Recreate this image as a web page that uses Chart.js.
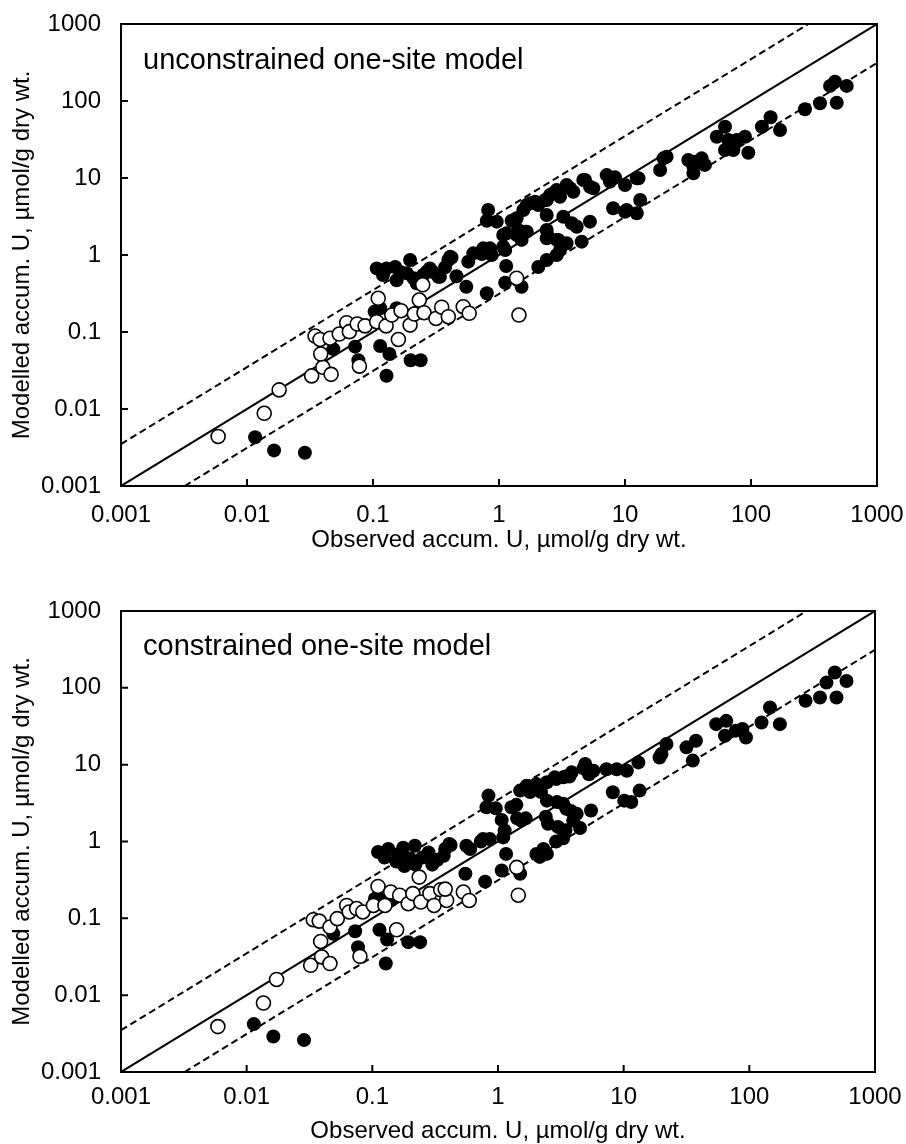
<!DOCTYPE html>
<html><head><meta charset="utf-8">
<script src="https://cdn.jsdelivr.net/npm/chart.js@4/dist/chart.umd.min.js"></script>
<style>
html,body{margin:0;padding:0;background:#fff;}
#wrap{position:relative;width:906px;height:1144px;overflow:hidden;}
canvas{position:absolute;left:0;}
</style></head><body>
<div id="wrap">
<canvas id="c1" width="906" height="560" style="top:0px"></canvas>
<canvas id="c2" width="906" height="572" style="top:572px"></canvas>
</div>
<script>
const FONT = "'Liberation Sans', Arial, Helvetica, sans-serif";
const tickValues = [0.001, 0.01, 0.1, 1, 10, 100, 1000];
const tickLabels = ['0.001', '0.01', '0.1', '1', '10', '100', '1000'];
const xTitle = 'Observed accum. U, µmol/g dry wt.';
const yTitle = 'Modelled accum. U, µmol/g dry wt.';
const panelLabels = ['unconstrained one-site model', 'constrained one-site model'];

const lineOneToOne = [[0.001, 0.001], [1000, 1000]];
const lineUpper = [[0.001, 0.0035], [285.7, 1000]];
const lineLower = [[0.0032, 0.001], [1000, 312]];

const topFilled = [
[0.0116,0.0043],[0.0164,0.0029],[0.0288,0.0027],
[0.0484,0.060],[0.072,0.0645],[0.0765,0.043],[0.114,0.0658],[0.135,0.0518],[0.128,0.027],[0.199,0.043],[0.239,0.043],
[0.103,0.184],[0.114,0.203],[0.154,0.203],
[0.107,0.67],[0.128,0.67],[0.150,0.70],[0.197,0.86],[0.154,0.47],[0.222,0.43],[0.283,0.67],[0.340,0.52],[0.396,0.86],[0.25,0.55],[0.185,0.58],[0.12,0.55],[0.165,0.6],[0.21,0.5],[0.3,0.6],
[0.267,0.607],[0.33,0.52],[0.373,0.69],[0.42,0.93],[0.46,0.53],[0.57,0.82],[0.73,1.03],[0.875,1.0],[0.55,0.387],[0.80,0.318],[1.12,0.437],[1.14,0.72],[1.12,1.16],[1.08,1.82],[1.38,1.82],[1.66,2.01],[1.51,1.57],[1.51,0.387],[1.38,3.0],[0.82,3.84],[0.80,2.79],[0.96,2.71],[1.56,3.84],[1.76,4.69],[2.05,4.46],[2.39,3.31],[2.39,5.18],[2.70,6.33],[3.05,5.72],[3.44,7.71],[2.46,1.73],[2.87,1.57],[3.05,1.16],[2.39,0.86],[2.05,0.70],[2.87,1.0],[3.44,1.42],
[0.41,0.95],[0.625,1.05],[0.75,1.22],[0.85,1.22],[1.08,1.28],
[1.26,2.79],[1.42,2.11],[1.66,4.46],[1.93,4.92],[2.32,5.18],[2.54,6.01],[2.87,6.98],[3.44,8.1],[3.89,6.64],[4.82,9.42],[5.6,7.35],[7.16,10.9],[7.6,8.96],[10,8.1],[12.4,9.91],
[1.15,1.91],[1.46,1.82],[1.61,2.01],[2.39,2.11],[3.24,3.14],[2.39,1.65],[2.96,1.57],[3.78,2.58],[4.14,2.33],[5.27,2.71],[4.53,1.49],[8.05,4.04],[10,3.65],[13.2,5.18],[12.4,3.48],[10.3,3.84],
[3.66,7.35],[4.67,9.42],[5.27,7.71],[8.33,10.2],[12.8,9.91],
[19,12.7],[21.4,18.9],[20.2,18.0],[31.8,17.1],[34.9,14.0],[39.4,16.3],[34.9,11.5],[36,16.3],[40.6,18],
[43.1,14.8],[53.5,34.4],[62.2,46.4],[66.1,31.2],[77.1,31.2],[89.6,34.4],[62.2,23.1],[72.4,23.1],[95.2,21.3],[122,46.4],[143,61.4],[170,42],[268,78],[353,93.3],[479,95],[424,157],[464,178],[575,157]
];
const topOpen = [
[0.0059,0.0044],[0.0137,0.0088],[0.018,0.0177],[0.0326,0.0269],[0.040,0.0348],[0.0465,0.0282],[0.0385,0.0518],[0.0347,0.0887],[0.038,0.080],[0.0456,0.083],[0.054,0.094],[0.0618,0.132],[0.0649,0.101],[0.075,0.127],[0.0865,0.120],[0.078,0.036],[0.107,0.136],[0.110,0.274],[0.127,0.120],[0.159,0.080],[0.141,0.166],[0.167,0.189],[0.197,0.123],[0.213,0.171],[0.233,0.26],[0.248,0.41],[0.254,0.178],[0.316,0.150],[0.351,0.21],[0.396,0.158],[0.52,0.213],[0.58,0.175],[1.38,0.50],[1.44,0.166]
];
const bottomFilled = [
[0.0114,0.0042],[0.0163,0.0029],[0.0286,0.0026],
[0.0489,0.063],[0.073,0.068],[0.077,0.042],[0.114,0.071],[0.131,0.053],[0.128,0.0258],[0.193,0.049],[0.24,0.049],[0.114,0.19],[0.14,0.171],[0.105,0.18],
[0.111,0.73],[0.134,0.80],[0.176,0.83],[0.218,0.88],[0.125,0.62],[0.155,0.55],[0.16,0.68],[0.2,0.6],[0.25,0.62],[0.28,0.72],[0.33,0.58],[0.38,0.8],[0.3,0.5],[0.22,0.5],[0.18,0.48],[0.37,0.65],[0.42,0.9],
[0.41,0.93],[0.56,0.88],[0.76,1.08],[0.86,1.08],[1.1,1.13],[1.16,0.69],[1.13,1.39],[2.02,0.69],[2.3,0.80],
[0.55,0.38],[0.79,0.30],[1.07,0.42],[1.5,0.38],[2.15,0.63],[2.45,0.69],
[0.84,3.96],[0.81,2.79],[1.07,1.91],[1.28,2.79],[1.53,1.87],[1.50,4.6],[1.69,5.33],[2.02,5.6],[2.45,5.9],[2.83,6.84],[3.3,6.84],[3.86,7.94],[2.45,3.4],[2.95,3.27],[3.5,2.66],[4.23,2.29],[3.97,1.87],[5.5,2.53],[4.94,10.2],[5.75,8.35],[7.3,8.7],[8.8,8.7],[10.6,8.35],[13.1,10.7],[8.2,4.37],[10.1,3.4],[13.4,4.6],[11.5,3.27],
[1.42,2.0],[1.66,2.0],[2.4,2.1],[3.0,1.55],[3.3,1.1],[2.9,1.0],[3.44,1.4],[2.5,1.7],[3.8,2.5],[4.5,1.5],[3.3,3.1],[3.44,7.0],[4.8,9.0],[3.7,7.0],[5.3,7.5],[2.9,6.5],[2.2,4.4],[1.8,4.4],[1.4,3.0],[0.96,2.7],[0.73,1.0],[0.6,0.8],
[20,13.8],[21.9,18.6],[19.3,12.4],[31.6,16.8],[37.6,20.5],[35.5,11.3],[54.5,33.7],[65.5,37.2],[64,23.8],[78,27.7],[94,22.6],[88,29.1],[125,35.4],[146,55.5],[175,33.7],[280,67.8],[365,74.8],[494,74.8],[411,117],[479,158],[593,123]
];
const bottomOpen = [
[0.0059,0.0039],[0.0136,0.0079],[0.0173,0.016],[0.0323,0.0245],[0.0395,0.0315],[0.046,0.0258],[0.0388,0.050],[0.0339,0.096],[0.0378,0.092],[0.046,0.077],[0.0526,0.099],[0.0625,0.147],[0.0655,0.121],[0.075,0.134],[0.084,0.121],[0.0797,0.032],[0.102,0.147],[0.111,0.26],[0.126,0.147],[0.156,0.071],[0.14,0.22],[0.165,0.20],[0.193,0.155],[0.21,0.21],[0.236,0.344],[0.243,0.163],[0.287,0.21],[0.31,0.147],[0.35,0.236],[0.39,0.171],[0.38,0.24],[0.53,0.22],[0.59,0.171],[1.41,0.46],[1.45,0.20]
];

const toXY = arr => arr.map(p => ({x: p[0], y: p[1]}));

const framePlugin = {
  id: 'frame',
  afterDatasetsDraw(chart) {
    const o = chart.options.plugins.frame;
    const {ctx, chartArea: a, scales: {x, y}} = chart;
    ctx.save();
    ctx.strokeStyle = '#000';
    ctx.lineWidth = 2;
    ctx.strokeRect(a.left, a.top, a.right - a.left, a.bottom - a.top);
    ctx.beginPath();
    tickValues.forEach(v => {
      const px = x.getPixelForValue(v);
      ctx.moveTo(px, a.bottom); ctx.lineTo(px, a.bottom - 7);
      const py = y.getPixelForValue(v);
      ctx.moveTo(a.left, py); ctx.lineTo(a.left + 7, py);
    });
    ctx.stroke();
    ctx.fillStyle = '#000';
    ctx.font = '29px ' + FONT;
    ctx.textAlign = 'left';
    ctx.textBaseline = 'alphabetic';
    ctx.fillText(o.label, a.left + o.dx, a.top + o.dy);
    ctx.restore();
  }
};

function makePanel(id, filled, open, label, g) {
  const lineDs = (pts, dash) => ({
    data: toXY(pts), showLine: true, pointRadius: 0, borderColor: '#000',
    borderWidth: 2, borderDash: dash, fill: false, order: 3
  });
  return new Chart(document.getElementById(id), {
    type: 'scatter',
    data: {datasets: [
      {data: toXY(open), backgroundColor: '#fff', borderColor: '#000', borderWidth: 1.6, pointRadius: 7, order: 0},
      {data: toXY(filled), backgroundColor: '#000', borderColor: '#000', borderWidth: 0, pointRadius: 7, order: 1},
      lineDs(lineOneToOne, []),
      lineDs(lineUpper, [7, 4]),
      lineDs(lineLower, [7, 4])
    ]},
    options: {
      responsive: false, animation: false, devicePixelRatio: 1,
      layout: {padding: {left: 0, right: 906 - g.right, top: g.top, bottom: 0}},
      plugins: {legend: {display: false}, tooltip: {enabled: false},
        frame: {label: label, dx: 22, dy: g.labelDy}},
      scales: {
        x: {
          type: 'logarithmic', position: 'bottom', min: 0.001, max: 1000,
          afterBuildTicks: s => { s.ticks = tickValues.map(v => ({value: v})); },
          afterFit: s => { s.height = g.height - g.bottom; s.paddingLeft = 0; s.paddingRight = 0; },
          grid: {display: false, drawTicks: false}, border: {display: false},
          ticks: {callback: (v, i) => tickLabels[i], color: '#000', font: {family: FONT, size: 24},
                  padding: g.xTickPad, maxRotation: 0, autoSkip: false},
          title: {display: true, text: xTitle, color: '#000', font: {family: FONT, size: 24, lineHeight: 1},
                  padding: {top: 0, bottom: g.xTitlePad}}
        },
        y: {
          type: 'logarithmic', position: 'left', min: 0.001, max: 1000,
          afterBuildTicks: s => { s.ticks = tickValues.map(v => ({value: v})); },
          afterFit: s => { s.width = g.left; s.paddingTop = 0; s.paddingBottom = 0; },
          grid: {display: false, drawTicks: false}, border: {display: false},
          ticks: {callback: (v, i) => tickLabels[i], color: '#000', font: {family: FONT, size: 24},
                  padding: 20, autoSkip: false},
          title: {display: true, text: yTitle, color: '#000', font: {family: FONT, size: 24, lineHeight: 1},
                  padding: {top: 10, bottom: 0}}
        }
      }
    },
    plugins: [framePlugin]
  });
}

makePanel('c1', topFilled, topOpen, panelLabels[0],
  {left: 121, right: 877, top: 24, bottom: 486, height: 560, xTickPad: 15, xTitlePad: 8, labelDy: 45});
makePanel('c2', bottomFilled, bottomOpen, panelLabels[1],
  {left: 121, right: 875, top: 39, bottom: 500, height: 572, xTickPad: 11, xTitlePad: 1, labelDy: 44});
</script>
</body></html>
